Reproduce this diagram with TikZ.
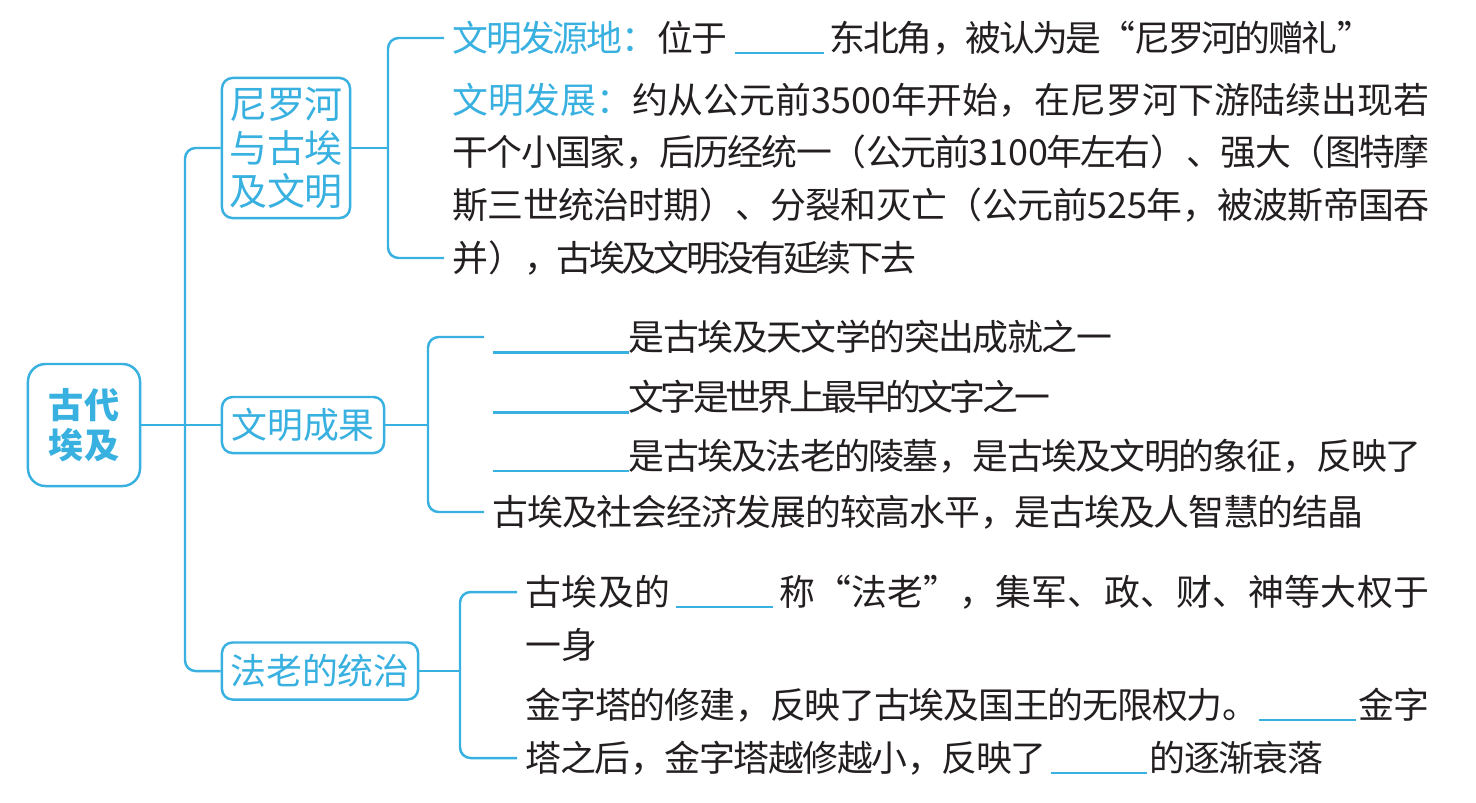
\documentclass[tikz,border=0pt]{standalone}
\usepackage{fontspec}
\setmainfont{Noto Sans CJK SC}
\usepackage{tikz}
\definecolor{egblue}{HTML}{38B0E0}
\definecolor{bodytext}{HTML}{231F20}
\XeTeXlinebreaklocale "zh"
\XeTeXlinebreakskip=0pt plus 3pt minus 3pt
\newcommand{\fillblank}[1]{\textcolor{egblue}{\rule[-0.08em]{#1}{0.6pt}}}
\newcommand{\spreadline}[2]{\parbox{#1}{\XeTeXlinebreakpenalty=10000 \parindent=0pt \parfillskip=0pt #2}}

\begin{document}
\begin{tikzpicture}[x=0.01cm, y=-0.01cm,
  every node/.style={font=\fontsize{10.2}{12}\selectfont},
  topic/.style={draw=egblue, line width=0.7pt, rounded corners=3pt, text=egblue, align=center, inner sep=0pt},
  rootbox/.style={topic, rounded corners=5pt, font=\fontsize{10}{11.5}\selectfont\bfseries},
  lineitem/.style={anchor=west, inner xsep=0.08cm, inner ysep=0pt, text=bodytext},
  conn/.style={egblue, line width=0.7pt, rounded corners=3pt}]
  \useasboundingbox (0,0) rectangle (1476,802);

  % Root box
  \node[rootbox, minimum width=1.12cm, minimum height=1.22cm] (root) at (84,425) {古代\\埃及};

  % Topic boxes
  \node[topic, minimum width=1.28cm, minimum height=1.40cm, font=\fontsize{10.8}{12.3}\selectfont] (nile) at (286,148) {尼罗河\\与古埃\\及文明};
  \node[topic, minimum width=1.62cm, minimum height=0.56cm] (achieve) at (303,425) {文明成果};
  \node[topic, minimum width=1.96cm, minimum height=0.57cm] (pharaoh) at (320,671) {法老的统治};

  % Nile and civilisation
  \node[lineitem] (n1) at (444,38) {\spreadline{9.20cm}{\textcolor{egblue}{文明发源地：}位于\kern0.08cm\fillblank{0.89cm}\kern0.06cm 东北角，被认为是“尼罗河的赠礼”}};
  \node[lineitem] (n2) at (444,100) {\spreadline{9.76cm}{\textcolor{egblue}{文明发展：}约从公元前3500年开始，在尼罗河下游陆续出现若}};
  \node[lineitem] (n3) at (444,152) {\spreadline{9.76cm}{干个小国家，后历经统一（公元前3100年左右）、强大（图特摩}};
  \node[lineitem] (n4) at (444,205) {\spreadline{9.76cm}{斯三世统治时期）、分裂和灭亡（公元前525年，被波斯帝国吞}};
  \node[lineitem] (n5) at (444,258) {\spreadline{4.63cm}{并），古埃及文明没有延续下去}};

  % Achievements
  \node[lineitem] (m1) at (484,337) {\spreadline{6.19cm}{\fillblank{1.36cm}是古埃及天文学的突出成就之一}};
  \node[lineitem] (m2) at (484,397) {\spreadline{5.57cm}{\fillblank{1.36cm}文字是世界上最早的文字之一}};
  \node[lineitem] (m3) at (484,456) {\spreadline{9.28cm}{\fillblank{1.36cm}是古埃及法老的陵墓，是古埃及文明的象征，反映了}};
  \node[lineitem] (m4) at (484,512) {\spreadline{8.70cm}{古埃及社会经济发展的较高水平，是古埃及人智慧的结晶}};

  % Pharaoh rule
  \node[lineitem] (p1) at (517,592) {\spreadline{9.03cm}{古埃及的\kern0.06cm\fillblank{0.97cm}\kern0.06cm 称“法老”，集军、政、财、神等大权于}};
  \node[lineitem] (p2) at (517,645) {一身};
  \node[lineitem] (p3) at (517,705) {\spreadline{9.03cm}{金字塔的修建，反映了古埃及国王的无限权力。\fillblank{0.97cm}\kern0.03cm 金字}};
  \node[lineitem] (p4) at (517,758) {\spreadline{7.97cm}{塔之后，金字塔越修越小，反映了\kern0.04cm\fillblank{0.96cm}\kern0.03cm 的逐渐衰落}};

  % Trunk
  \coordinate (hub) at (185,425);
  \draw[conn] (root) -- (achieve);
  \draw[conn] (nile.west) -| (hub) |- (pharaoh.west);

  % Brackets
  \coordinate (k1) at (388,148);
  \draw[conn] (nile.east) -- (k1);
  \draw[conn] (n1.west) -| (k1) |- (n5.west);
  \coordinate (k2) at (428,425);
  \draw[conn] (achieve.east) -- (k2);
  \draw[conn] (m1.west) -| (k2) |- (m4.west);
  \coordinate (k3) at (460,671);
  \draw[conn] (pharaoh.east) -- (k3);
  \draw[conn] (p1.west) -| (k3) |- (p4.west);
\end{tikzpicture}
\end{document}
